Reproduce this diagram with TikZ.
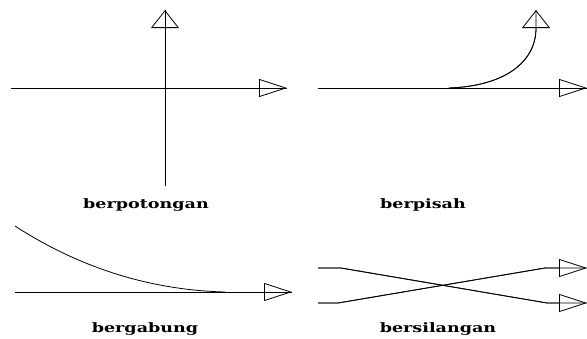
\documentclass[tikz,border=0pt]{standalone}
\usepackage{fontspec}
\newfontfamily\labelFont{DejaVu Serif}
\usetikzlibrary{arrows.meta}
\tikzstyle{plainLine} = [line width=0.8pt, line join=round]
% the drawing is stretched sideways, so the tips differ with direction
\tikzstyle{roadLine} = [plainLine, -{Triangle[open, length=28pt, width=18pt]}, postaction={draw, -}]
\tikzstyle{roadLineUp} = [plainLine, -{Triangle[open, length=18pt, width=28pt]}, postaction={draw, -}]
\tikzstyle{caseLabel} = [font=\labelFont\bfseries\fontsize{13}{15}\selectfont, inner sep=0pt, xscale=1.35, transform shape]

\begin{document}
\begin{tikzpicture}[x=1pt, y=-1pt]
  \useasboundingbox (0,0) rectangle (587,338);

  % berpotongan
  \coordinate (potWest) at (11,88);
  \coordinate (potEast) at (287,88);
  \coordinate (potSouth) at (165,186);
  \coordinate (potNorth) at (165,10);
  \draw [roadLine] (potWest) -- (potEast);
  \draw [roadLineUp] (potSouth) -- (potNorth);
  \node [caseLabel] (potLabel) at (146,205) {berpotongan};

  % berpisah
  \coordinate (pisWest) at (318,88);
  \coordinate (pisEast) at (587,88);
  \coordinate (pisSplit) at (449,88);
  \coordinate (pisBend) at (536,28);
  \coordinate (pisNorth) at (536,10);
  \draw [roadLine] (pisWest) -- (pisEast);
  \draw [roadLineUp] (pisSplit) .. controls (505,86) and (536,62) .. (pisBend) -- (pisNorth);
  \node [caseLabel] (pisLabel) at (423,205) {berpisah};

  % bergabung
  \coordinate (gabWest) at (15,292);
  \coordinate (gabEast) at (292,292);
  \coordinate (gabSide) at (15,226);
  \coordinate (gabJoin) at (225,292);
  \draw [roadLine] (gabWest) -- (gabEast);
  \draw [plainLine] (gabSide) .. controls (80,268) and (150,290) .. (gabJoin);
  \node [caseLabel] (gabLabel) at (145,329) {bergabung};

  % bersilangan
  \coordinate (silTopWest) at (318,268);
  \coordinate (silTopBend) at (341,268);
  \coordinate (silBotWest) at (318,303);
  \coordinate (silBotBend) at (338,303);
  \coordinate (silLowBend) at (547,303);
  \coordinate (silHighBend) at (545,268);
  \coordinate (silLowEast) at (587,303);
  \coordinate (silHighEast) at (587,268);
  \draw [roadLine] (silTopWest) -- (silTopBend) -- (silLowBend) -- (silLowEast);
  \draw [roadLine] (silBotWest) -- (silBotBend) -- (silHighBend) -- (silHighEast);
  \node [caseLabel] (silLabel) at (438,329) {bersilangan};
\end{tikzpicture}
\end{document}
